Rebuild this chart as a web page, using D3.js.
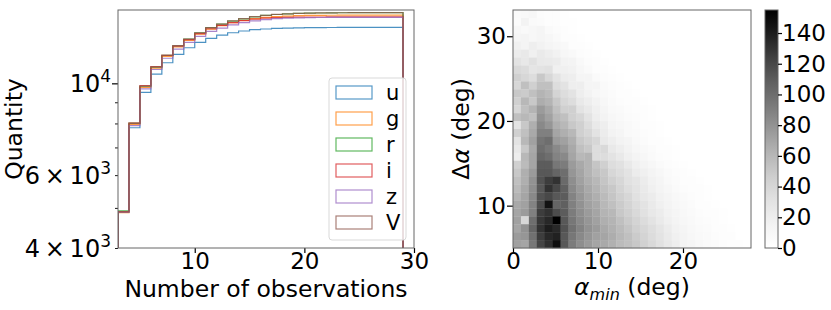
<!DOCTYPE html>
<html>
<head>
<meta charset="utf-8">
<script src="https://cdn.jsdelivr.net/npm/d3@7"></script>
<style>
body { margin: 0; background: #fff; }
svg text { font-family: "DejaVu Sans", sans-serif; fill: #000; }
</style>
</head>
<body>
<script>
// LEFT PANEL DATA: cumulative counts, one value per bin (bins 3-4 ... 28-29)
var binEdges = [3,4,5,6,7,8,9,10,11,12,13,14,15,16,17,18,19,20,21,22,23,24,25,26,27,28,29];
var bandNames = ["u", "g", "r", "i", "z", "V"];
var bandColors = ["#1f77b4", "#ff7f0e", "#2ca02c", "#d62728", "#9467bd", "#8c564b"];
var countsU = [4880, 7810, 9510, 10530, 11215, 11750, 12190, 12560, 12850, 13080, 13250, 13380, 13480, 13530, 13580, 13600, 13620, 13630, 13640, 13645, 13650, 13654, 13657, 13659, 13660, 13660];
var countsG = [4870, 7960, 9780, 10880, 11610, 12240, 12700, 13140, 13520, 13780, 14010, 14190, 14330, 14430, 14500, 14540, 14570, 14590, 14600, 14607, 14612, 14615, 14617, 14618, 14619, 14620];
var countsR = [4920, 8010, 9840, 10950, 11680, 12320, 12790, 13240, 13630, 13900, 14140, 14320, 14480, 14590, 14670, 14715, 14755, 14778, 14792, 14803, 14810, 14816, 14820, 14824, 14826, 14828];
var countsI = [4900, 8020, 9880, 10970, 11680, 12300, 12750, 13180, 13550, 13800, 14020, 14180, 14300, 14370, 14410, 14435, 14450, 14460, 14466, 14470, 14473, 14476, 14478, 14479, 14480, 14480];
var countsZ = [4880, 7900, 9700, 10800, 11500, 12100, 12560, 12980, 13350, 13600, 13840, 14020, 14160, 14260, 14330, 14370, 14400, 14415, 14425, 14432, 14436, 14439, 14440, 14440, 14440, 14440];
var countsV = [4890, 8000, 9850, 10960, 11690, 12330, 12800, 13250, 13640, 13910, 14150, 14330, 14490, 14600, 14680, 14720, 14760, 14780, 14795, 14805, 14812, 14818, 14822, 14826, 14828, 14830];
var allCounts = [countsU, countsG, countsR, countsI, countsZ, countsV];

var xTicksLeft = [10, 20, 30];
var yMinorLeft = [4000, 5000, 6000, 7000, 8000, 9000];
var yMajorLeft = [10000];
var yLabelsLeft = [[4000, "4\u2009×\u200910", "3"], [6000, "6\u2009×\u200910", "3"], [10000, "10", "4"]];

// RIGHT PANEL DATA: 2d histogram counts, 30x30 bins, rows listed from top (large delta alpha) to bottom
var heatRows = [
  [6, 8, 10, 4, 2, 3, 1],
  [5, 15, 6, 5, 3, 2, 1, 1],
  [10, 8, 10, 12, 6, 4, 2, 1],
  [12, 14, 10, 12, 10, 6, 3, 2, 1],
  [18, 14, 20, 16, 12, 10, 8, 3, 2, 1],
  [22, 25, 18, 24, 20, 16, 10, 8, 4, 2, 1],
  [30, 26, 32, 25, 24, 22, 15, 14, 8, 4, 2, 1],
  [38, 36, 28, 30, 32, 18, 18, 16, 10, 6, 3, 2, 1],
  [45, 40, 35, 50, 40, 30, 22, 20, 12, 12, 6, 4, 2, 1],
  [40, 55, 45, 55, 55, 35, 30, 20, 20, 12, 12, 6, 4, 2, 1],
  [50, 48, 55, 62, 58, 42, 35, 30, 20, 15, 10, 8, 5, 3, 2, 1],
  [45, 60, 50, 66, 62, 50, 40, 35, 25, 20, 15, 10, 6, 4, 3, 2, 1],
  [40, 55, 62, 75, 68, 55, 45, 45, 30, 25, 18, 12, 8, 6, 4, 3, 2, 1],
  [55, 60, 55, 80, 72, 60, 55, 45, 40, 30, 20, 15, 10, 8, 5, 4, 2, 1],
  [30, 50, 65, 85, 78, 65, 60, 50, 45, 35, 25, 20, 12, 10, 8, 5, 3, 2, 1],
  [45, 55, 68, 90, 90, 70, 65, 60, 45, 40, 30, 22, 15, 12, 8, 6, 4, 2, 1],
  [30, 60, 72, 96, 100, 76, 72, 65, 50, 45, 40, 25, 20, 15, 12, 8, 5, 3, 2, 1],
  [25, 50, 68, 100, 94, 85, 78, 68, 55, 50, 35, 38, 25, 20, 15, 10, 8, 5, 3, 2, 1],
  [20, 60, 70, 104, 100, 88, 85, 70, 60, 62, 35, 35, 30, 25, 18, 14, 10, 6, 4, 2, 1],
  [45, 58, 70, 110, 110, 95, 92, 75, 68, 62, 52, 45, 35, 32, 25, 18, 14, 10, 6, 4, 2, 1],
  [50, 65, 75, 112, 112, 105, 100, 78, 70, 62, 55, 50, 40, 35, 30, 22, 18, 14, 10, 6, 4, 2, 1],
  [55, 65, 80, 115, 125, 130, 102, 82, 72, 65, 60, 52, 45, 40, 32, 28, 22, 16, 12, 8, 5, 3, 2, 1],
  [58, 68, 82, 112, 130, 120, 108, 85, 75, 68, 62, 55, 50, 42, 35, 30, 24, 18, 14, 10, 7, 4, 3, 2, 1],
  [62, 70, 85, 115, 120, 112, 110, 88, 78, 70, 65, 58, 52, 45, 40, 32, 26, 22, 16, 12, 9, 6, 4, 2, 1],
  [68, 72, 88, 118, 145, 105, 108, 90, 80, 72, 68, 60, 55, 48, 42, 35, 30, 24, 18, 14, 10, 8, 5, 3, 2, 1],
  [70, 75, 90, 125, 130, 118, 110, 92, 82, 75, 70, 62, 60, 50, 45, 38, 32, 26, 22, 16, 12, 9, 6, 4, 3, 2, 1],
  [72, 40, 100, 128, 135, 155, 112, 95, 85, 78, 72, 65, 62, 55, 48, 42, 36, 30, 24, 18, 14, 10, 8, 5, 4, 2, 1],
  [70, 80, 105, 130, 140, 135, 115, 98, 88, 80, 75, 68, 64, 58, 52, 45, 40, 34, 28, 22, 16, 12, 9, 7, 5, 3, 2, 1],
  [75, 78, 98, 125, 135, 138, 112, 95, 85, 78, 72, 70, 66, 60, 55, 48, 42, 36, 30, 24, 18, 14, 10, 8, 6, 4, 3, 2],
  [72, 70, 95, 122, 132, 148, 112, 92, 82, 76, 70, 68, 64, 58, 55, 50, 44, 38, 32, 26, 20, 15, 12, 9, 7, 5, 4, 3, 2, 1]
];
var xTicksRight = [0, 10, 20];
var yTicksRight = [10, 20, 30];
var cbarTicks = [0, 20, 40, 60, 80, 100, 120, 140];

var tickFont = 23;
var labelFont = 23.5;

var svg = d3.select("body").append("svg")
  .attr("width", 831)
  .attr("height", 310);

function styleAxis(g) {
  g.attr("font-family", "DejaVu Sans").attr("font-size", tickFont);
  g.select(".domain").remove();
  g.selectAll(".tick line").attr("stroke", "#000").attr("stroke-width", 1.2);
  g.selectAll(".tick text").attr("fill", "#000");
}

// LEFT PANEL
var xL = d3.scaleLinear().domain([3, 30]).range([118, 414]);
var yL = d3.scaleLog().domain([4000, 15040]).range([248, 10]);

svg.append("clipPath").attr("id", "clipL")
  .append("rect").attr("x", 118).attr("y", 10).attr("width", 296).attr("height", 238);

var stepLine = d3.line()
  .curve(d3.curveStepAfter)
  .x(function(d) { return xL(d.x); })
  .y(function(d) { return d.v === null ? 249 : yL(d.v); });

allCounts.forEach(function(vals, k) {
  var pts = [{x: binEdges[0], v: null}];
  vals.forEach(function(v, i) { pts.push({x: binEdges[i], v: v}); });
  pts.push({x: binEdges[binEdges.length - 1], v: vals[vals.length - 1]});
  pts.push({x: binEdges[binEdges.length - 1], v: null});
  svg.append("path")
    .attr("clip-path", "url(#clipL)")
    .attr("d", stepLine(pts))
    .attr("fill", "none")
    .attr("stroke", bandColors[k])
    .attr("stroke-opacity", 0.8)
    .attr("stroke-width", 1.2);
});

var gxL = svg.append("g").attr("transform", "translate(0,248)")
  .call(d3.axisBottom(xL).tickValues(xTicksLeft).tickSize(5).tickPadding(0).tickFormat(d3.format("d")));
styleAxis(gxL);

var gyMinor = svg.append("g").attr("transform", "translate(118,0)")
  .call(d3.axisLeft(yL).tickValues(yMinorLeft).tickSize(3).tickFormat(""));
styleAxis(gyMinor);
gyMinor.selectAll(".tick line").attr("stroke-width", 0.9);
var gyMajor = svg.append("g").attr("transform", "translate(118,0)")
  .call(d3.axisLeft(yL).tickValues(yMajorLeft).tickSize(6).tickFormat(""));
styleAxis(gyMajor);

yLabelsLeft.forEach(function(t) {
  var lab = svg.append("text")
    .attr("x", 111)
    .attr("y", yL(t[0]) + 8.5)
    .attr("text-anchor", "end")
    .style("font-size", "24px");
  lab.append("tspan").text(t[1]);
  lab.append("tspan").attr("dy", -10).style("font-size", "17px").text(t[2]);
});

svg.append("rect")
  .attr("x", 118).attr("y", 10).attr("width", 296).attr("height", 238)
  .attr("fill", "none").attr("stroke", "#666").attr("stroke-width", 1);

svg.append("text")
  .attr("x", 266).attr("y", 297)
  .attr("text-anchor", "middle")
  .style("font-size", labelFont + "px")
  .text("Number of observations");
svg.append("text")
  .attr("transform", "translate(22,129) rotate(-90)")
  .attr("text-anchor", "middle")
  .style("font-size", labelFont + "px")
  .text("Quantity");

// legend
var legend = svg.append("g").attr("transform", "translate(329,78)");
legend.append("rect")
  .attr("width", 77).attr("height", 162).attr("rx", 3)
  .attr("fill", "#fff").attr("fill-opacity", 0.8)
  .attr("stroke", "#d9d9d9").attr("stroke-width", 1);
bandNames.forEach(function(name, k) {
  legend.append("rect")
    .attr("x", 7).attr("y", 8 + k * 26)
    .attr("width", 36).attr("height", 13)
    .attr("fill", "none")
    .attr("stroke", bandColors[k]).attr("stroke-opacity", 0.75)
    .attr("stroke-width", 1.2);
  legend.append("text")
    .attr("x", 57).attr("y", 14.5 + k * 26)
    .attr("dy", "0.35em")
    .style("font-size", "21px")
    .text(name);
});

// RIGHT PANEL
var xR = d3.scaleLinear().domain([0, 28]).range([513, 751]);
var yR = d3.scaleLinear().domain([5, 33.1]).range([248, 10]);
var colBand = d3.scaleBand().domain(d3.range(30)).range([513, 751]);
var rowBand = d3.scaleBand().domain(d3.range(30)).range([10, 248]);
var grey = d3.scaleSequential(d3.interpolateGreys).domain([0, 155]);

heatRows.forEach(function(row, r) {
  svg.append("g").selectAll("rect")
    .data(row)
    .join("rect")
    .attr("x", function(d, c) { return colBand(c); })
    .attr("y", rowBand(r))
    .attr("width", colBand.bandwidth() + 0.3)
    .attr("height", rowBand.bandwidth() + 0.3)
    .attr("fill", function(d) { return grey(d); });
});

var gxR = svg.append("g").attr("transform", "translate(0,248)")
  .call(d3.axisBottom(xR).tickValues(xTicksRight).tickSize(5).tickPadding(0).tickFormat(d3.format("d")));
styleAxis(gxR);
var gyR = svg.append("g").attr("transform", "translate(513,0)")
  .call(d3.axisLeft(yR).tickValues(yTicksRight).tickSize(6).tickPadding(1).tickFormat(d3.format("d")));
styleAxis(gyR);

svg.append("rect")
  .attr("x", 513).attr("y", 10).attr("width", 238).attr("height", 238)
  .attr("fill", "none").attr("stroke", "#666").attr("stroke-width", 1);

var xlabR = svg.append("text")
  .attr("x", 632).attr("y", 295)
  .attr("text-anchor", "middle")
  .style("font-size", labelFont + "px");
xlabR.append("tspan").style("font-style", "italic").text("α");
xlabR.append("tspan").attr("dy", 5).style("font-style", "italic").style("font-size", "16px").text("min");
xlabR.append("tspan").attr("dy", -5).text(" (deg)");

var ylabR = svg.append("text")
  .attr("transform", "translate(469,129) rotate(-90)")
  .attr("text-anchor", "middle")
  .style("font-size", labelFont + "px");
ylabR.append("tspan").text("Δ");
ylabR.append("tspan").style("font-style", "italic").text("α");
ylabR.append("tspan").text(" (deg)");

// colorbar
var cScale = d3.scaleLinear().domain([0, 155]).range([248, 10]);
var grad = svg.append("defs").append("linearGradient")
  .attr("id", "greyGrad")
  .attr("x1", 0).attr("y1", 1).attr("x2", 0).attr("y2", 0);
d3.range(0, 1.0001, 0.1).forEach(function(t) {
  grad.append("stop").attr("offset", t).attr("stop-color", d3.interpolateGreys(t));
});
svg.append("rect")
  .attr("x", 765).attr("y", 10).attr("width", 13).attr("height", 238)
  .attr("fill", "url(#greyGrad)")
  .attr("stroke", "#666").attr("stroke-width", 1);
var gc = svg.append("g").attr("transform", "translate(778,0)")
  .call(d3.axisRight(cScale).tickValues(cbarTicks).tickSize(4).tickPadding(0).tickFormat(d3.format("d")));
styleAxis(gc);
</script>
</body>
</html>
